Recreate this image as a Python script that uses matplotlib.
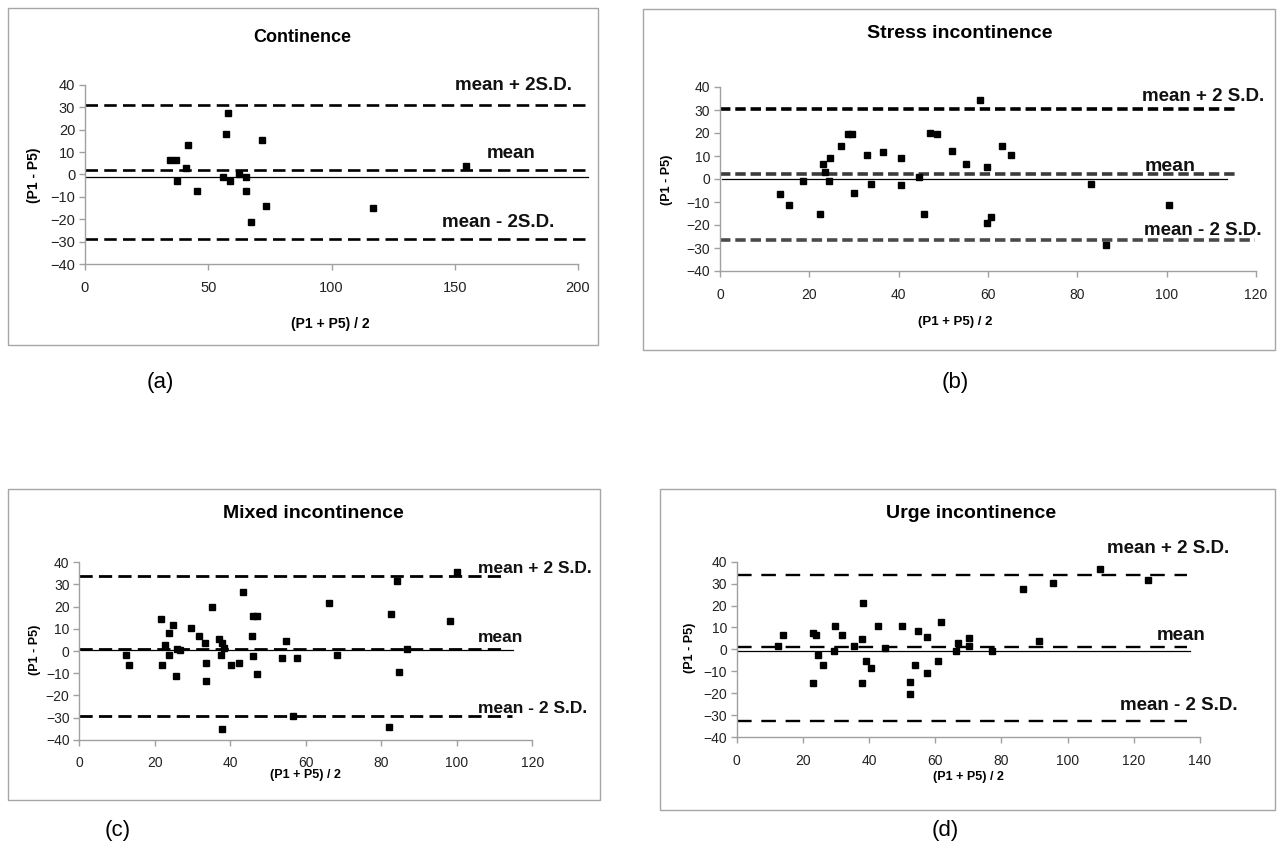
import matplotlib
matplotlib.use("Agg")
import matplotlib.pyplot as plt
from matplotlib.patches import Rectangle

plt.rcParams['font.family'] = ['Liberation Sans', 'DejaVu Sans']
plt.rcParams['lines.scale_dashes'] = False

# ---------------- data ----------------
a_x = [34.5, 36.8, 37.2, 40.9, 41.9, 45.3, 58.1, 57.4, 56.1, 59.0, 62.6, 65.5,
       65.3, 67.3, 72.0, 73.6, 116.9, 154.5]
a_y = [6.3, 6.3, -2.7, 3.0, 13.0, -7.2, 27.5, 17.9, -1.2, -2.7, 0.0, -1.2,
       -7.2, -21.3, 15.2, -13.9, -15.1, 3.7]
a_upper, a_mean, a_lower, a_zero = 31.2, 2.1, -28.8, -1.3

b_x = [13.4, 15.5, 18.5, 22.5, 23.1, 23.5, 24.6, 24.5, 27.0, 28.7, 29.6, 30.1,
       33.0, 33.9, 36.5, 40.6, 40.6, 44.5, 45.6, 47.0, 48.6, 52.0, 55.0, 58.2,
       59.8, 63.2, 65.1, 59.8, 60.6, 83.0, 86.5, 100.5]
b_y = [-6.5, -11.3, -1.0, -15.2, 6.5, 2.9, 9.3, -1.0, 14.5, 19.6, 19.6, -5.9,
       10.3, -2.0, 11.6, 9.3, -2.8, 1.0, -15.2, 20.0, 19.6, 12.2, 6.5, 34.3,
       5.4, 14.5, 10.3, -19.3, -16.7, -2.0, -28.7, -11.3]
b_upper, b_mean, b_lower, b_zero = 30.3, 2.3, -26.7, 0.0

c_x = [12.5, 13.2, 21.6, 22.0, 22.7, 23.7, 23.7, 24.9, 25.6, 25.8, 26.7, 29.7,
       31.6, 33.3, 33.6, 33.6, 35.2, 37.1, 37.7, 37.5, 38.2, 37.7, 40.2, 42.4,
       43.3, 45.7, 46.0, 47.2, 46.0, 47.2, 53.6, 54.7, 57.6, 56.5, 66.1, 68.3,
       82.6, 84.1, 84.7, 86.7, 82.0, 98.2, 100.1]
c_y = [-1.8, -6.3, 14.6, -6.3, 2.7, 8.3, -1.8, 11.7, -11.3, 0.8, 0.5, 10.5,
       6.8, 3.5, -5.6, -13.4, 19.7, 5.4, 3.5, -1.8, 1.2, -35.1, -6.2, -5.6,
       26.4, 6.8, 15.8, 15.8, -2.3, -10.5, -3.3, 4.5, -3.3, -29.1, 21.5, -1.8,
       16.5, 31.7, -9.6, 0.8, -34.1, 13.7, 35.7]
c_upper, c_mean, c_lower, c_zero = 33.8, 0.9, -29.1, 0.5

d_x = [12.6, 14.1, 23.0, 23.1, 24.1, 24.5, 26.1, 29.5, 29.8, 31.8, 35.5, 37.9,
       38.2, 37.9, 39.0, 40.6, 42.8, 44.8, 49.8, 52.4, 52.5, 54.0, 54.8, 57.4,
       57.4, 60.8, 61.8, 66.2, 67.0, 70.3, 70.3, 77.2, 86.4, 91.4, 95.5, 109.8,
       124.3]
d_y = [1.5, 6.7, -15.2, 7.3, 6.7, -2.4, -7.3, -0.6, 10.6, 6.7, 1.5, 4.6,
       21.3, -15.2, -5.5, -8.5, 10.6, 0.5, 10.6, -14.8, -20.4, -7.3, 8.4, 5.6,
       -10.7, -5.5, 12.3, -0.6, 3.0, 5.4, 1.5, -0.6, 27.5, 3.8, 30.4, 36.5,
       31.6]
d_upper, d_mean, d_lower, d_zero = 33.9, 1.2, -32.7, -0.8

W, H = 1284, 846
fig = plt.figure(figsize=(W / 100, H / 100), dpi=100)
fig.patch.set_facecolor('white')


def px_axes(l, t, r, b):
    return fig.add_axes([l / W, 1 - b / H, (r - l) / W, (b - t) / H])


def frame(l, t, r, b):
    fig.add_artist(Rectangle((l / W, 1 - b / H), (r - l) / W, (b - t) / H,
                             transform=fig.transFigure, fill=False,
                             edgecolor='#a6a6a6', linewidth=1.0))


def ftext(x, y, s, **kw):
    fig.text(x / W, 1 - y / H, s, **kw)


def style_axes(ax, xmax, xstep, tick_fs):
    ax.set_xlim(0, xmax)
    ax.set_ylim(-40, 40)
    ax.set_xticks(range(0, xmax + 1, xstep))
    ax.set_yticks(range(-40, 41, 10))
    for s in ['top', 'right']:
        ax.spines[s].set_visible(False)
    for s in ['left', 'bottom']:
        ax.spines[s].set_color('#a0a0a0')
        ax.spines[s].set_linewidth(1.0)
    ax.tick_params(direction='out', length=4, width=1, color='#a0a0a0',
                   labelsize=tick_fs, labelcolor='#222222')
    ax.tick_params(axis='x', pad=8)
    ax.tick_params(axis='y', pad=3)
    ax.patch.set_alpha(0)


def bland(ax, x, y, upper, mean, lower, zero, xend, zend, dash, lw,
          colors=('black', 'black', 'black'), lend=None):
    lend = xend if lend is None else lend
    ax.plot([0, xend], [upper, upper], color=colors[0], lw=lw, dashes=dash,
            clip_on=False, zorder=2)
    ax.plot([0, xend], [mean, mean], color=colors[1], lw=lw, dashes=dash,
            clip_on=False, zorder=2)
    ax.plot([0, lend], [lower, lower], color=colors[2], lw=lw, dashes=dash,
            clip_on=False, zorder=2)
    ax.plot([0.5, zend], [zero, zero], color='black', lw=0.9,
            clip_on=False, zorder=2)
    ax.plot(x, y, 's', color='black', markersize=5, clip_on=False, zorder=3)


lab = dict(fontweight='bold', color='#111111', ha='left', va='center',
           clip_on=False)

# ---------------- (a) Continence ----------------
frame(8, 8, 598, 345)
ax_a = px_axes(85, 85, 578, 264)
style_axes(ax_a, 200, 50, 10.5)
bland(ax_a, a_x, a_y, a_upper, a_mean, a_lower, a_zero, 205, 204,
      (9, 4.5), 1.9)
ax_a.text(150, 40, 'mean + 2S.D.', fontsize=13.5, **lab)
ax_a.text(163, 9.4, 'mean', fontsize=13.5, **lab)
ax_a.text(145, -21.5, 'mean - 2S.D.', fontsize=13.5, **lab)
ftext(302, 38, 'Continence', fontsize=13, fontweight='bold',
      ha='center', va='center')
ftext(34, 175, '(P1 - P5)', fontsize=10, fontweight='bold', rotation=90,
      ha='center', va='center')
ftext(330, 324, '(P1 + P5) / 2', fontsize=10, fontweight='bold',
      ha='center', va='center')

# ---------------- (b) Stress incontinence ----------------
frame(643, 9, 1275, 350)
ax_b = px_axes(720, 87, 1256, 271)
style_axes(ax_b, 120, 20, 10)
bland(ax_b, b_x, b_y, b_upper, b_mean, b_lower, b_zero, 115.7, 113.6,
      (7.5, 3.5), 2.6, colors=('black', '#3c3c3c', '#4a4a4a'), lend=119.7)
ax_b.text(94.4, 36, 'mean + 2 S.D.', fontsize=13.5, **lab)
ax_b.text(95, 5.6, 'mean', fontsize=14, **lab)
ax_b.text(95, -22.5, 'mean - 2 S.D.', fontsize=13.5, **lab)
ftext(960, 33, 'Stress incontinence', fontsize=14, fontweight='bold',
      ha='center', va='center')
ftext(667, 180, '(P1 - P5)', fontsize=9, fontweight='bold', rotation=90,
      ha='center', va='center')
ftext(955, 322, '(P1 + P5) / 2', fontsize=9.5, fontweight='bold',
      ha='center', va='center')

# ---------------- (c) Mixed incontinence ----------------
frame(8, 489, 600, 800)
ax_c = px_axes(79.3, 562.3, 532.3, 739.7)
style_axes(ax_c, 120, 20, 10)
bland(ax_c, c_x, c_y, c_upper, c_mean, c_lower, c_zero, 112.8, 115,
      (9.5, 4.5), 2.0, lend=114.5)
ax_c.text(105.7, 37.2, 'mean + 2 S.D.', fontsize=12.5, **lab)
ax_c.text(105.6, 6.2, 'mean', fontsize=12.5, **lab)
ax_c.text(105.6, -25.8, 'mean - 2 S.D.', fontsize=12.5, **lab)
ftext(313, 513, 'Mixed incontinence', fontsize=14, fontweight='bold',
      ha='center', va='center')
ftext(35, 650, '(P1 - P5)', fontsize=9, fontweight='bold', rotation=90,
      ha='center', va='center')
ftext(305, 775, '(P1 + P5) / 2', fontsize=9, fontweight='bold',
      ha='center', va='center')

# ---------------- (d) Urge incontinence ----------------
frame(660, 489, 1275, 810)
ax_d = px_axes(736.7, 561.7, 1200, 737)
style_axes(ax_d, 140, 20, 10)
bland(ax_d, d_x, d_y, d_upper, d_mean, d_lower, d_zero, 136, 137,
      (10.5, 7), 1.7)
ax_d.text(111.9, 46, 'mean + 2 S.D.', fontsize=13.5, **lab)
ax_d.text(126.9, 6.5, 'mean', fontsize=13.5, **lab)
ax_d.text(115.8, -25.4, 'mean - 2 S.D.', fontsize=13.5, **lab)
ftext(971, 513, 'Urge incontinence', fontsize=14, fontweight='bold',
      ha='center', va='center')
ftext(690, 648, '(P1 - P5)', fontsize=9, fontweight='bold', rotation=90,
      ha='center', va='center')
ftext(968, 777, '(P1 + P5) / 2', fontsize=9, fontweight='bold',
      ha='center', va='center')

# ---------------- panel letters ----------------
ftext(160, 382, '(a)', fontsize=16, ha='center', va='center')
ftext(955, 382, '(b)', fontsize=16, ha='center', va='center')
ftext(118, 830, '(c)', fontsize=16, ha='center', va='center')
ftext(945, 830, '(d)', fontsize=16, ha='center', va='center')

fig.savefig('out.png', dpi=100, facecolor='white')
